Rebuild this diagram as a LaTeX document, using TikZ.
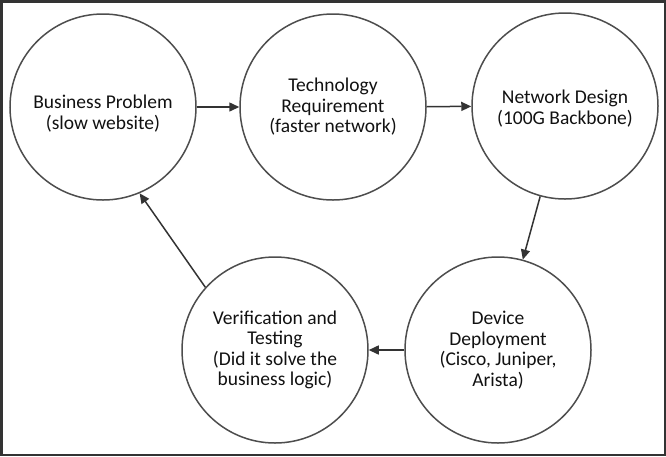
\documentclass[tikz,border=0pt]{standalone}
\usepackage{fontspec}
\setmainfont{Carlito}
\usepackage{tikz}
\usetikzlibrary{arrows.meta}
\definecolor{FlowEdge}{HTML}{4D4D4D}
\definecolor{FlowArrow}{HTML}{333333}
\definecolor{FlowFrame}{HTML}{333333}
\definecolor{FlowText}{HTML}{111111}
\newcommand{\droptext}[2]{\raisebox{-#1}[\height][\depth]{\begin{tabular}{@{}c@{}}#2\end{tabular}}}
\begin{document}
\begin{tikzpicture}[x=1pt,y=-1pt,
    stage/.style={circle,draw=FlowEdge,line width=1.5pt,minimum size=186pt,inner sep=0pt,align=center,text=FlowText,font=\fontsize{19.5}{20.5}\selectfont},
    arr/.style={-{Triangle[length=10pt,width=9pt]},line width=1.5pt,FlowArrow}
  ]
    \useasboundingbox (0,0) rectangle (666,456);
    \draw[FlowFrame,line width=2.5pt] (1.25,1.25) rectangle (664.75,454.75);
    \node[stage] (biz) at (103,107) {\droptext{8pt}{Business Problem\\(slow website)}};
    \node[stage] (req) at (333,107) {Technology\\Requirement\\(faster network)};
    \node[stage] (net) at (565,106) {\droptext{4pt}{Network Design\\(100G Backbone)}};
    \node[stage] (dev) at (498,350) {Device\\Deployment\\(Cisco, Juniper,\\Arista)};
    \node[stage] (ver) at (275,350) {Verification and\\Testing\\(Did it solve the\\business logic)};
    \draw[arr] (biz) -- (req);
    \draw[arr] (req) -- (net);
    \draw[arr] (net) -- (dev);
    \draw[arr] (dev) -- (ver);
    \draw[arr] (ver.138) -- (biz.-67);
  \end{tikzpicture}
\end{document}
